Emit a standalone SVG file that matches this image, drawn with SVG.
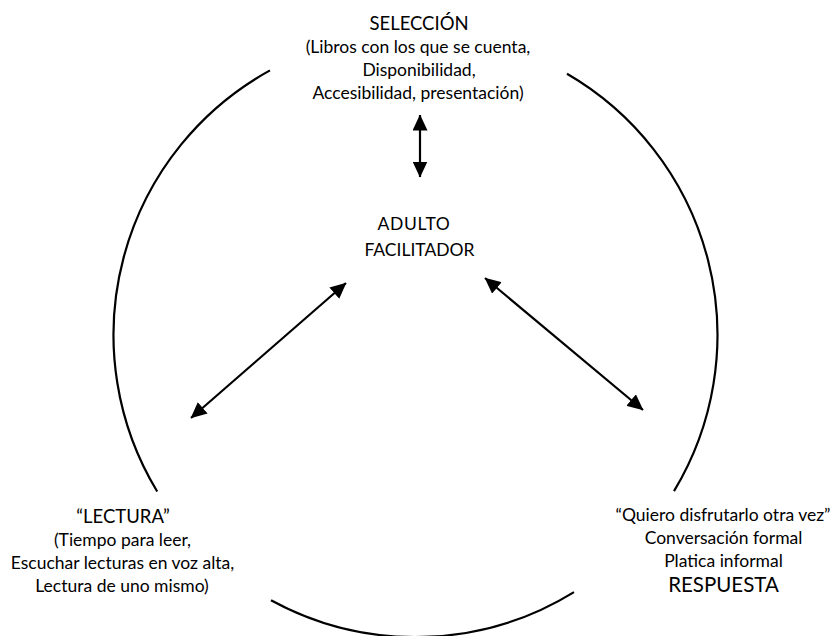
<svg xmlns="http://www.w3.org/2000/svg" width="830" height="636" viewBox="0 0 830 636">
<style>
text{font-family:Lato,"Open Sans","Liberation Sans",sans-serif;fill:#000;text-anchor:middle}
.t{font-size:20.5px}
.ts{font-size:18.5px}
.b{font-size:17.5px}
.circ{fill:none;stroke:#000;stroke-width:2.2}
.arr{stroke:#000;stroke-width:2.2;fill:none;marker-start:url(#ah);marker-end:url(#ah)}
</style>
<defs>
<marker id="ah" markerUnits="userSpaceOnUse" markerWidth="16" markerHeight="15" viewBox="0 0 16 15" refX="15.5" refY="7.5" orient="auto-start-reverse">
<path d="M0,0 L16,7.5 L0,15 Z" fill="#000"/>
</marker>
</defs>
<rect width="830" height="636" fill="#fff"/>
<g id="ring">
<path class="circ" d="M270,70.4 A302,302 0 0 0 157.2,491.5"/>
<path class="circ" d="M567,73.8 A302,302 0 0 1 674,491.1"/>
<path class="circ" d="M271,600.2 A302,302 0 0 0 574,592.1"/>
</g>
<g id="connectors">
<line class="arr" x1="420" y1="115" x2="420" y2="177"/>
<line class="arr" x1="346" y1="283" x2="191" y2="418"/>
<line class="arr" x1="485" y1="278" x2="643" y2="410"/>
</g>
<g id="seleccion">
<text class="ts" x="419" y="30">SELECCIÓN</text>
<text class="b" x="418" y="53">(Libros con los que se cuenta,</text>
<text class="b" x="419" y="76">Disponibilidad,</text>
<text class="b" x="418" y="99">Accesibilidad, presentación)</text>
</g>
<g id="adulto">
<text class="b" x="414" y="230" style="letter-spacing:0.6px">ADULTO</text>
<text class="b" x="419.5" y="256">FACILITADOR</text>
</g>
<g id="lectura">
<text class="ts" x="123" y="523">“LECTURA”</text>
<text class="b" x="122.5" y="546">(Tiempo para leer,</text>
<text class="b" x="122.5" y="569">Escuchar lecturas en voz alta,</text>
<text class="b" x="122" y="592">Lectura de uno mismo)</text>
</g>
<g id="respuesta">
<text class="b" x="723" y="521">“Quiero disfrutarlo otra vez”</text>
<text class="b" x="723.5" y="544">Conversación formal</text>
<text class="b" x="723.5" y="567">Platica informal</text>
<text class="t" x="723.5" y="592">RESPUESTA</text>
</g>
</svg>
